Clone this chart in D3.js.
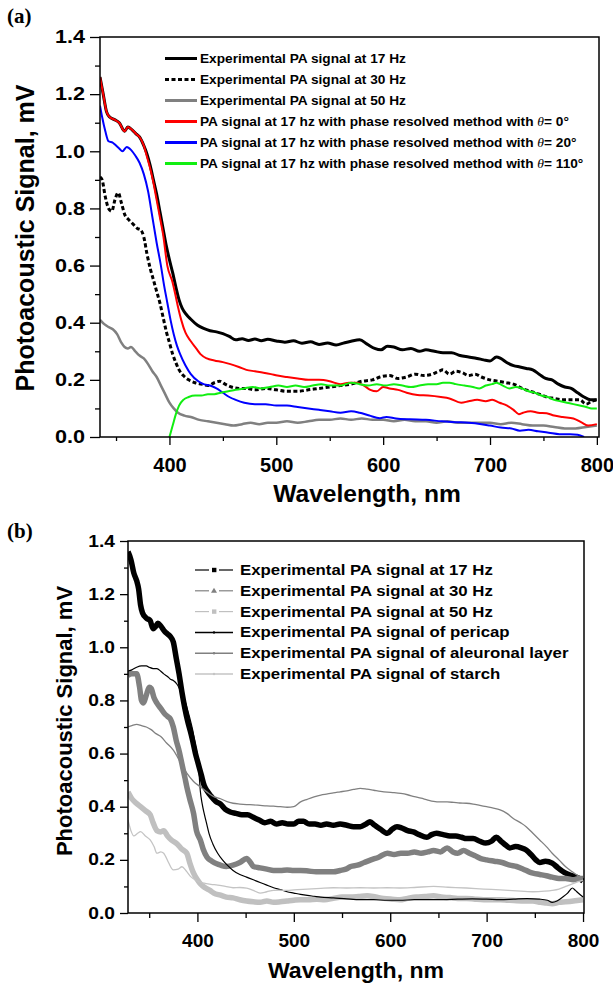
<!DOCTYPE html>
<html>
<head>
<meta charset="utf-8">
<script src="https://cdn.jsdelivr.net/npm/d3@7"></script>
<style>
	body { margin: 0; background: #fff; }
	text { font-family: "Liberation Sans", Arial, sans-serif; font-weight: bold; fill: #000; }
	.panel-label { font-family: "Liberation Serif", "Times New Roman", serif; }
</style>
</head>
<body>
<script>
// ---- panel (a) data: [wavelength nm, signal mV]
const a17 = [[335,1.26],[338,1.2],[341,1.14],[344,1.12],[349,1.11],[353,1.1],[358,1.07],[361,1.085],[365,1.075],[369,1.06],[372,1.05],[376,1.02],[379,0.99],[382,0.95],[385,0.9],[388,0.85],[391,0.79],[394,0.73],[397,0.67],[400,0.62],[403,0.575],[406,0.525],[409,0.48],[412,0.45],[416,0.428],[420,0.412],[426,0.392],[432,0.38],[438,0.372],[444,0.368],[450,0.362],[456,0.352],[462,0.34],[468,0.344],[474,0.338],[480,0.343],[486,0.337],[492,0.342],[500,0.336],[508,0.332],[516,0.337],[524,0.328],[532,0.333],[540,0.324],[548,0.329],[556,0.322],[564,0.33],[570,0.335],[578,0.34],[585,0.325],[592,0.31],[598,0.305],[604,0.318],[610,0.315],[618,0.305],[626,0.31],[634,0.3],[640,0.305],[648,0.3],[656,0.295],[664,0.295],[672,0.285],[680,0.28],[688,0.275],[694,0.27],[700,0.266],[706,0.28],[710,0.275],[716,0.26],[722,0.25],[728,0.245],[734,0.24],[740,0.235],[746,0.22],[752,0.205],[758,0.2],[764,0.185],[770,0.175],[776,0.17],[782,0.155],[788,0.14],[794,0.13],[800,0.13]];
const a30 = [[335,0.91],[337,0.9],[340,0.84],[343,0.8],[346,0.79],[349,0.83],[352,0.855],[355,0.82],[358,0.78],[362,0.76],[366,0.745],[370,0.73],[373,0.725],[376,0.7],[379,0.64],[382,0.59],[385,0.55],[388,0.51],[391,0.47],[394,0.42],[397,0.37],[400,0.33],[403,0.29],[406,0.26],[409,0.235],[413,0.215],[418,0.2],[424,0.19],[430,0.185],[436,0.18],[442,0.19],[447,0.195],[452,0.185],[458,0.175],[465,0.17],[472,0.17],[480,0.165],[490,0.17],[500,0.165],[510,0.16],[520,0.16],[530,0.165],[540,0.17],[550,0.175],[560,0.18],[570,0.185],[580,0.195],[590,0.2],[597,0.21],[606,0.215],[614,0.205],[622,0.21],[630,0.22],[638,0.215],[646,0.22],[652,0.23],[656,0.235],[662,0.22],[668,0.23],[674,0.225],[680,0.215],[686,0.22],[692,0.21],[700,0.2],[708,0.195],[715,0.19],[722,0.185],[730,0.17],[738,0.16],[746,0.15],[753,0.14],[760,0.135],[768,0.13],[776,0.13],[784,0.13],[790,0.115],[795,0.125],[800,0.13]];
const a50 = [[335,0.41],[339,0.395],[343,0.385],[347,0.377],[351,0.36],[355,0.33],[358,0.315],[361,0.31],[364,0.315],[368,0.3],[372,0.285],[376,0.275],[380,0.255],[384,0.23],[388,0.21],[392,0.18],[396,0.15],[400,0.12],[404,0.1],[408,0.085],[414,0.075],[420,0.07],[428,0.06],[436,0.055],[444,0.05],[452,0.045],[460,0.04],[468,0.045],[476,0.05],[484,0.045],[492,0.05],[500,0.05],[510,0.055],[520,0.05],[530,0.055],[540,0.06],[550,0.06],[560,0.065],[570,0.06],[580,0.065],[590,0.06],[600,0.06],[610,0.055],[620,0.06],[630,0.055],[640,0.055],[650,0.05],[660,0.055],[670,0.05],[680,0.05],[690,0.05],[700,0.05],[710,0.045],[720,0.05],[730,0.045],[740,0.04],[750,0.04],[760,0.035],[770,0.03],[780,0.03],[790,0.035],[800,0.04]];
const aTheta0 = [[335,1.26],[338,1.2],[341,1.14],[344,1.12],[349,1.11],[353,1.1],[358,1.07],[361,1.085],[365,1.075],[369,1.06],[372,1.05],[376,1.02],[379,0.98],[382,0.94],[385,0.89],[388,0.83],[391,0.77],[394,0.71],[398,0.6],[403,0.54],[406,0.49],[408,0.455],[411,0.41],[415,0.365],[420,0.335],[425,0.31],[429,0.29],[435,0.275],[442,0.268],[450,0.262],[457,0.255],[465,0.245],[472,0.235],[480,0.23],[488,0.225],[495,0.22],[501,0.215],[510,0.21],[520,0.205],[530,0.2],[540,0.2],[550,0.195],[560,0.185],[568,0.19],[575,0.19],[582,0.18],[588,0.165],[594,0.16],[600,0.175],[606,0.17],[614,0.165],[622,0.155],[632,0.147],[642,0.145],[654,0.14],[662,0.135],[673,0.12],[680,0.125],[688,0.13],[696,0.125],[702,0.13],[709,0.12],[716,0.11],[722,0.095],[727,0.08],[731,0.085],[738,0.09],[745,0.085],[753,0.083],[760,0.075],[768,0.07],[778,0.065],[786,0.05],[792,0.04],[800,0.045]];
const aTheta20 = [[335,1.16],[337,1.12],[340,1.07],[343,1.035],[347,1.03],[350,1.02],[353,1.01],[356,1.0],[360,1.015],[364,1.005],[368,0.985],[372,0.96],[376,0.92],[380,0.86],[384,0.77],[388,0.68],[392,0.6],[395,0.53],[398,0.47],[401,0.41],[404,0.36],[407,0.32],[410,0.29],[415,0.25],[420,0.22],[427,0.195],[432,0.185],[438,0.18],[444,0.17],[450,0.155],[456,0.14],[462,0.13],[470,0.12],[480,0.115],[490,0.115],[500,0.11],[510,0.11],[520,0.105],[530,0.1],[540,0.095],[550,0.09],[560,0.085],[570,0.09],[578,0.085],[587,0.075],[597,0.066],[603,0.07],[612,0.065],[625,0.062],[640,0.06],[655,0.055],[668,0.052],[680,0.05],[692,0.045],[700,0.04],[710,0.033],[720,0.03],[728,0.022],[736,0.025],[745,0.02],[755,0.015],[765,0.01],[775,0.01],[782,0.008],[788,0.0]];
const aTheta110 = [[400,0.0],[403,0.04],[406,0.08],[409,0.11],[413,0.13],[418,0.14],[424,0.145],[430,0.145],[436,0.15],[442,0.15],[448,0.155],[455,0.16],[462,0.165],[470,0.17],[478,0.175],[486,0.17],[494,0.175],[502,0.18],[510,0.175],[518,0.18],[526,0.175],[534,0.18],[542,0.185],[550,0.18],[560,0.18],[570,0.19],[578,0.185],[586,0.18],[594,0.185],[602,0.18],[610,0.185],[618,0.18],[626,0.175],[634,0.18],[642,0.185],[650,0.185],[656,0.19],[662,0.19],[668,0.185],[676,0.18],[684,0.175],[690,0.17],[696,0.18],[702,0.185],[706,0.19],[712,0.18],[718,0.17],[724,0.175],[730,0.17],[736,0.16],[742,0.155],[748,0.145],[754,0.14],[760,0.13],[766,0.125],[772,0.12],[778,0.115],[784,0.11],[790,0.105],[795,0.1],[800,0.1]];

// ---- panel (b) data
const b17 = [[328,1.36],[331,1.33],[334,1.28],[337,1.25],[339,1.22],[341,1.16],[343,1.13],[347,1.11],[351,1.1],[354,1.07],[357,1.08],[359,1.09],[362,1.08],[366,1.06],[369,1.05],[372,1.04],[375,1.02],[378,0.96],[381,0.9],[384,0.83],[387,0.77],[390,0.72],[393,0.68],[395,0.65],[398,0.6],[401,0.56],[404,0.52],[407,0.48],[410,0.46],[414,0.44],[419,0.42],[424,0.41],[429,0.39],[434,0.38],[440,0.375],[446,0.37],[452,0.37],[458,0.36],[464,0.35],[470,0.34],[476,0.345],[482,0.335],[488,0.34],[494,0.335],[500,0.335],[505,0.345],[510,0.345],[516,0.335],[522,0.335],[528,0.33],[534,0.335],[541,0.33],[548,0.335],[555,0.33],[562,0.325],[569,0.325],[575,0.335],[579,0.343],[584,0.33],[590,0.315],[597,0.3],[602,0.315],[607,0.325],[612,0.32],[618,0.31],[624,0.305],[630,0.295],[638,0.285],[643,0.295],[648,0.3],[655,0.295],[662,0.29],[668,0.29],[674,0.285],[679,0.28],[686,0.28],[693,0.27],[699,0.263],[705,0.27],[710,0.285],[715,0.27],[720,0.255],[724,0.245],[730,0.25],[736,0.245],[741,0.237],[746,0.22],[751,0.2],[755,0.19],[761,0.195],[768,0.188],[774,0.17],[782,0.15],[789,0.14],[796,0.13],[800,0.12]];
const b30 = [[328,0.895],[332,0.9],[337,0.9],[340,0.85],[342,0.8],[344,0.79],[347,0.82],[350,0.85],[352,0.845],[355,0.81],[358,0.79],[362,0.77],[366,0.75],[369,0.74],[372,0.73],[375,0.7],[378,0.65],[381,0.61],[384,0.56],[387,0.51],[389,0.475],[392,0.43],[396,0.375],[399,0.31],[403,0.275],[406,0.24],[410,0.21],[415,0.195],[420,0.185],[424,0.18],[430,0.175],[437,0.18],[444,0.19],[451,0.205],[455,0.19],[458,0.175],[465,0.17],[472,0.165],[479,0.16],[486,0.16],[493,0.162],[500,0.16],[507,0.16],[515,0.158],[523,0.155],[532,0.155],[541,0.155],[548,0.16],[554,0.165],[559,0.175],[566,0.18],[573,0.19],[580,0.2],[588,0.21],[597,0.225],[604,0.22],[611,0.225],[618,0.225],[625,0.23],[632,0.225],[639,0.23],[645,0.235],[652,0.23],[659,0.245],[665,0.23],[670,0.225],[676,0.235],[682,0.225],[688,0.215],[694,0.205],[700,0.2],[708,0.195],[716,0.19],[724,0.18],[731,0.175],[738,0.165],[744,0.155],[748,0.15],[755,0.145],[762,0.14],[768,0.135],[775,0.13],[782,0.13],[790,0.125],[796,0.13],[800,0.13]];
const b50 = [[328,0.455],[332,0.43],[336,0.415],[341,0.4],[346,0.385],[351,0.37],[354,0.34],[358,0.31],[362,0.305],[365,0.31],[369,0.29],[373,0.275],[379,0.26],[384,0.24],[389,0.225],[392,0.19],[396,0.15],[400,0.125],[403,0.11],[408,0.095],[413,0.085],[417,0.075],[424,0.067],[430,0.06],[437,0.057],[444,0.05],[451,0.045],[458,0.042],[465,0.04],[472,0.045],[479,0.04],[486,0.042],[493,0.045],[500,0.048],[507,0.05],[515,0.05],[524,0.052],[532,0.05],[541,0.055],[550,0.06],[558,0.06],[567,0.062],[576,0.065],[585,0.06],[593,0.055],[602,0.052],[610,0.05],[618,0.055],[627,0.06],[636,0.062],[645,0.065],[653,0.06],[662,0.058],[670,0.055],[679,0.055],[688,0.052],[697,0.05],[706,0.05],[714,0.05],[722,0.048],[731,0.046],[740,0.045],[748,0.045],[756,0.04],[762,0.038],[768,0.035],[775,0.04],[782,0.042],[790,0.045],[796,0.048],[800,0.05]];
const bPericap = [[328,0.91],[332,0.915],[337,0.925],[342,0.93],[347,0.93],[350,0.925],[354,0.92],[358,0.92],[362,0.91],[365,0.9],[369,0.89],[372,0.88],[375,0.875],[379,0.86],[382,0.84],[386,0.81],[389,0.775],[392,0.735],[395,0.69],[398,0.63],[400,0.59],[402,0.51],[403,0.46],[405,0.41],[407,0.375],[410,0.33],[412,0.3],[416,0.26],[421,0.225],[426,0.2],[431,0.18],[437,0.16],[444,0.145],[451,0.135],[458,0.125],[465,0.115],[472,0.105],[479,0.095],[486,0.088],[493,0.08],[500,0.075],[507,0.07],[514,0.066],[521,0.063],[528,0.06],[541,0.057],[555,0.053],[569,0.05],[583,0.05],[597,0.048],[610,0.048],[625,0.05],[640,0.05],[655,0.05],[670,0.052],[685,0.053],[700,0.052],[714,0.05],[728,0.052],[742,0.054],[755,0.052],[763,0.048],[768,0.04],[773,0.045],[779,0.06],[784,0.075],[789,0.094],[792,0.085],[795,0.075],[800,0.06]];
const bAleuron = [[328,0.7],[332,0.705],[337,0.71],[342,0.705],[347,0.7],[352,0.69],[357,0.675],[362,0.664],[368,0.64],[375,0.613],[382,0.57],[389,0.526],[396,0.495],[403,0.475],[410,0.455],[417,0.438],[424,0.43],[430,0.42],[437,0.413],[444,0.41],[451,0.408],[458,0.407],[465,0.405],[472,0.403],[479,0.402],[486,0.4],[493,0.398],[500,0.4],[507,0.418],[514,0.428],[521,0.437],[528,0.444],[535,0.448],[541,0.452],[548,0.456],[555,0.46],[562,0.465],[569,0.469],[576,0.466],[583,0.462],[590,0.458],[597,0.455],[604,0.453],[611,0.45],[618,0.445],[625,0.438],[632,0.432],[639,0.425],[645,0.42],[652,0.418],[659,0.418],[666,0.416],[672,0.414],[679,0.413],[686,0.41],[693,0.405],[700,0.4],[707,0.395],[714,0.388],[721,0.375],[728,0.355],[735,0.34],[741,0.325],[748,0.3],[755,0.275],[762,0.25],[768,0.225],[775,0.2],[782,0.174],[789,0.155],[795,0.14],[800,0.13]];
const bStarch = [[328,0.35],[331,0.31],[334,0.29],[338,0.3],[341,0.306],[346,0.29],[351,0.275],[355,0.25],[358,0.225],[362,0.23],[365,0.225],[370,0.19],[375,0.162],[380,0.165],[384,0.174],[388,0.16],[393,0.137],[400,0.12],[407,0.112],[414,0.108],[421,0.105],[429,0.1],[437,0.095],[444,0.096],[451,0.094],[458,0.085],[465,0.075],[472,0.08],[479,0.085],[486,0.086],[493,0.085],[500,0.087],[514,0.09],[528,0.093],[541,0.095],[555,0.094],[569,0.095],[583,0.094],[597,0.095],[610,0.094],[625,0.096],[645,0.1],[660,0.097],[679,0.094],[697,0.09],[714,0.087],[731,0.083],[748,0.08],[760,0.082],[768,0.085],[775,0.09],[782,0.1],[789,0.11],[795,0.118],[800,0.124]];

const yMajor = [0, 0.2, 0.4, 0.6, 0.8, 1.0, 1.2, 1.4];
const yMinor = [0.1, 0.3, 0.5, 0.7, 0.9, 1.1, 1.3];
const xMajor = [400, 500, 600, 700, 800];
const xMinor = [350, 450, 550, 650, 750];

const legendA = [
	{ text: "Experimental PA signal at 17 Hz", data: a17, color: "#000", width: 3 },
	{ text: "Experimental PA signal at 30 Hz", data: a30, color: "#000", width: 3, dash: "4,2.5" },
	{ text: "Experimental PA signal at 50 Hz", data: a50, color: "#808080", width: 2.5 },
	{ text: "PA signal at 17 hz with phase resolved method with ", theta: "= 0°", data: aTheta0, color: "#f00", width: 2 },
	{ text: "PA signal at 17 hz with phase resolved method with ", theta: "= 20°", data: aTheta20, color: "#00f", width: 2 },
	{ text: "PA signal at 17 hz with phase resolved method with ", theta: "= 110°", data: aTheta110, color: "#11ee11", width: 2 }
];
const legendB = [
	{ text: "Experimental PA signal at 17 Hz", data: b17, color: "#000", width: 5.5, marker: "square" },
	{ text: "Experimental PA signal at 30 Hz", data: b30, color: "#808080", width: 5.5, marker: "triangle" },
	{ text: "Experimental PA signal at 50 Hz", data: b50, color: "#c0c0c0", width: 5.5, marker: "square" },
	{ text: "Experimental PA signal of pericap", data: bPericap, color: "#000", width: 1.2, marker: "dot" },
	{ text: "Experimental PA signal of aleuronal layer", data: bAleuron, color: "#808080", width: 1.3, marker: "dot" },
	{ text: "Experimental PA signal of starch", data: bStarch, color: "#c4c4c4", width: 1.3, marker: "dot" }
];

const svg = d3.select("body").append("svg").attr("width", 613).attr("height", 985);
svg.append("rect").attr("width", 613).attr("height", 985).attr("fill", "#fff");

// horizontally stretched text, like the scanned figure
function stretchedText(g, x, y, str, size, k, anchor) {
	return g.append("text")
		.attr("transform", `translate(${x},${y}) scale(${k},1)`)
		.attr("text-anchor", anchor || "start")
		.style("font-size", size + "px")
		.text(str);
}

function drawPanel(p) {
	const g = svg.append("g");
	const x = d3.scaleLinear().domain(p.xDomain).range([p.left, p.right]);
	const y = d3.scaleLinear().domain([0, 1.4]).range([p.bottom, p.top]);

	// minor ticks
	g.append("g").attr("transform", `translate(${p.left},0)`)
		.call(d3.axisLeft(y).tickValues(yMinor).tickSize(p.yMinorTick).tickFormat(""));
	g.append("g").attr("transform", `translate(0,${p.bottom})`)
		.call(d3.axisBottom(x).tickValues(xMinor).tickSize(p.xMinorTick).tickFormat(""));

	const yAx = g.append("g").attr("transform", `translate(${p.left},0)`)
		.call(d3.axisLeft(y).tickValues(yMajor).tickSize(p.yTick).tickPadding(5).tickFormat(d3.format(".1f")));
	yAx.selectAll("text")
		.attr("font-family", null)
		.style("font-size", p.yFont + "px")
		.attr("x", -(p.yTick + 5) / p.yK)
		.attr("transform", `scale(${p.yK},1)`);

	const xAx = g.append("g").attr("transform", `translate(0,${p.bottom})`)
		.call(d3.axisBottom(x).tickValues(xMajor).tickSize(p.xTick).tickFormat(d3.format("d")));
	xAx.selectAll("text")
		.attr("font-family", null)
		.style("font-size", p.xFont + "px")
		.attr("dy", null)
		.attr("y", p.xLabelBase)
		.attr("transform", `scale(${p.xK},1)`);

	g.selectAll(".domain").remove();
	g.selectAll(".tick line").attr("stroke", "#000").attr("stroke-width", 1.3);

	const line = d3.line().x(d => x(d[0])).y(d => y(d[1])).curve(d3.curveMonotoneX);
	const clip = "clip-" + p.id;
	g.append("clipPath").attr("id", clip).append("rect")
		.attr("x", p.left).attr("y", p.top - 2)
		.attr("width", p.right - p.left).attr("height", p.bottom - p.top + 2);

	g.append("g").attr("clip-path", `url(#${clip})`)
		.selectAll("path")
		.data(p.series)
		.join("path")
		.attr("fill", "none")
		.attr("stroke", d => d.color)
		.attr("stroke-width", d => d.width)
		.attr("stroke-dasharray", d => d.dash || null)
		.attr("stroke-linejoin", "round")
		.attr("d", d => line(d.data));

	g.append("rect")
		.attr("x", p.left).attr("y", p.top)
		.attr("width", p.right - p.left).attr("height", p.bottom - p.top)
		.attr("fill", "none").attr("stroke", "#000").attr("stroke-width", 1.5);

	stretchedText(g, p.xTitle[0], p.xTitle[1], "Wavelength, nm", p.xTitleFont, p.xTitleK, "middle");
	g.append("text")
		.attr("transform", `translate(${p.yTitle[0]},${p.yTitle[1]}) rotate(-90)`)
		.attr("text-anchor", "middle")
		.style("font-size", p.yTitleFont + "px")
		.text("Photoacoustic Signal, mV");

	g.append("text").attr("class", "panel-label")
		.attr("x", 7).attr("y", p.labelY)
		.style("font-size", "21px")
		.text(p.label);
	return g;
}

const gA = drawPanel({
	id: "a", label: "(a)", labelY: 23,
	xDomain: [335, 802], left: 100, right: 599, top: 37, bottom: 437,
	yTick: 10, yMinorTick: 5, xTick: 8, xMinorTick: 4,
	yFont: 18, yK: 1.2, xFont: 20, xK: 1.0, xLabelBase: 35,
	xTitle: [367, 502], xTitleFont: 23, xTitleK: 1.07,
	yTitle: [34, 238], yTitleFont: 25,
	series: legendA
});

const gB = drawPanel({
	id: "b", label: "(b)", labelY: 538,
	xDomain: [328, 801], left: 128, right: 584, top: 541, bottom: 913,
	yTick: 8, yMinorTick: 4, xTick: 9, xMinorTick: 5,
	yFont: 16, yK: 1.2, xFont: 19, xK: 1.0, xLabelBase: 34,
	xTitle: [356, 978], xTitleFont: 22, xTitleK: 1.05,
	yTitle: [72, 721], yTitleFont: 22,
	series: legendB
});

// legend (a)
const legA = gA.append("g");
legendA.forEach((s, i) => {
	const yy = 58.5 + i * 21;
	legA.append("line")
		.attr("x1", 165).attr("x2", 197).attr("y1", yy).attr("y2", yy)
		.attr("stroke", s.color).attr("stroke-width", 3)
		.attr("stroke-dasharray", s.dash ? "4,2.5" : null);
	const t = stretchedText(legA, 200, yy + 4.3, s.text, 12, 1.14);
	if (s.theta) {
		t.append("tspan").style("font-style", "italic").style("font-weight", "normal")
			.style("font-family", "'Liberation Serif', serif").text("θ");
		t.append("tspan").text(s.theta);
	}
});

// legend (b)
const legB = gB.append("g");
legendB.forEach((s, i) => {
	const yy = 570 + i * 20.8;
	if (s.marker === "dot") {
		legB.append("line")
			.attr("x1", 195).attr("x2", 233).attr("y1", yy).attr("y2", yy)
			.attr("stroke", s.color).attr("stroke-width", s.width + 0.3);
		legB.append("circle").attr("cx", 214).attr("cy", yy).attr("r", 1.2).attr("fill", s.color);
	} else {
		[[195, 209], [219, 233]].forEach(seg => {
			legB.append("line")
				.attr("x1", seg[0]).attr("x2", seg[1]).attr("y1", yy).attr("y2", yy)
				.attr("stroke", s.color).attr("stroke-width", 1.2);
		});
		if (s.marker === "square") {
			legB.append("rect").attr("x", 212).attr("y", yy - 2.2).attr("width", 4.4).attr("height", 4.4).attr("fill", s.color);
		} else {
			legB.append("path").attr("d", `M214,${yy - 3}L217,${yy + 2}L211,${yy + 2}Z`).attr("fill", s.color);
		}
	}
	stretchedText(legB, 240, yy + 5, s.text, 14, 1.2);
});
</script>
</body>
</html>
